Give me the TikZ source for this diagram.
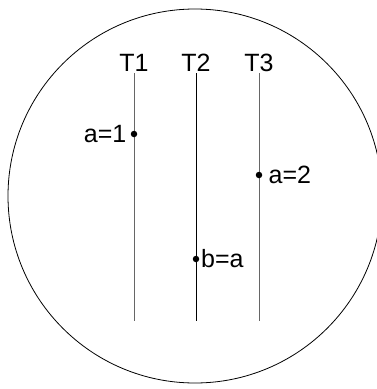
\documentclass[tikz,border=0pt]{standalone}
\usepackage{fontspec}
\setmainfont{Liberation Sans}
\usetikzlibrary{positioning}

\begin{document}
\begin{tikzpicture}[
  x=1pt,y=-1pt,
  thread/.style={line width=0.9pt},
  tname/.style={font=\fontsize{25}{29}\selectfont,inner sep=0pt},
  event/.style={circle,fill=black,minimum size=6.5pt,inner sep=0pt},
  assign/.style={font=\fontsize{25}{29}\selectfont,inner sep=0pt}
]
\useasboundingbox (0,0) rectangle (377,389);
\draw[line width=0.8pt] (195,196) circle (187);
% threads
\coordinate (t1top) at (134,73);
\coordinate (t1bot) at (134,321);
\coordinate (t2top) at (196,73);
\coordinate (t2bot) at (196,321);
\coordinate (t3top) at (259,73);
\coordinate (t3bot) at (259,321);
\draw[thread,black!60] (t1top)--(t1bot);
\draw[thread] (t2top)--(t2bot);
\draw[thread,black!60] (t3top)--(t3bot);
\node[tname,above=1pt of t1top] (t1) {T1};
\node[tname,above=1pt of t2top] (t2) {T2};
\node[tname,above=1pt of t3top] (t3) {T3};
% events
\node[event] (e1) at (134,134) {};
\node[event] (e3) at (259,175) {};
\node[event] (e2) at (196,259) {};
\node[assign,left=4pt of e1] (a1) {a=1};
\node[assign,right=6pt of e3] (a2) {a=2};
\node[assign,right=1.5pt of e2] (ba) {b=a};
\end{tikzpicture}
\end{document}
